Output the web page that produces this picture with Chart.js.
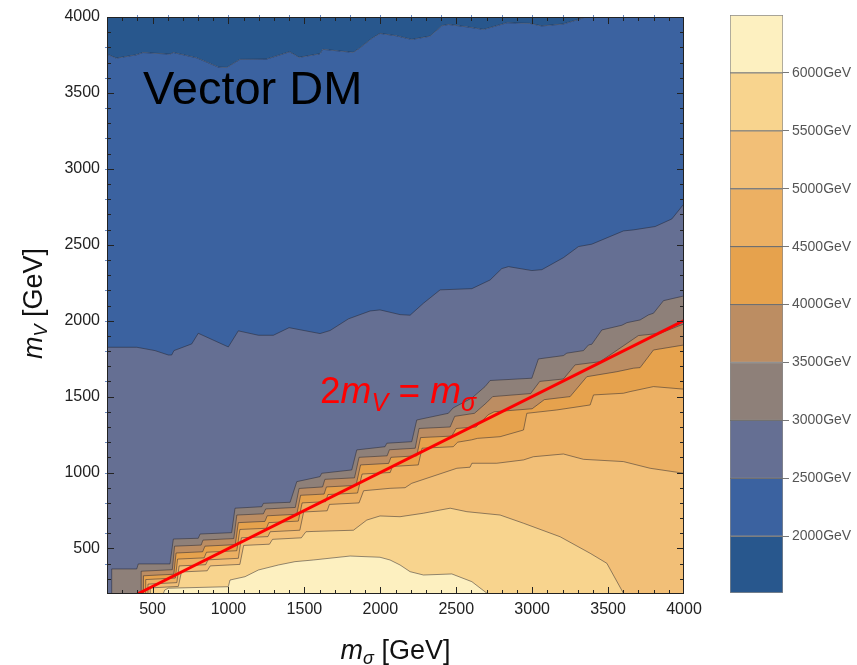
<!DOCTYPE html>
<html>
<head>
<meta charset="utf-8">
<title>Vector DM contours</title>
<script src="https://cdn.jsdelivr.net/npm/chart.js@4.4.1/dist/chart.umd.min.js"></script>
<style>
  body { margin: 0; background: #fff; }
  #wrap { position: relative; width: 857px; height: 665px; }
  canvas { position: absolute; top: 0; }
  #plot { left: 0; }
  #scaleBar { left: 700px; }
</style>
</head>
<body>
<div id="wrap">
  <canvas id="plot" width="857" height="665"></canvas>
  <canvas id="scaleBar" width="157" height="665"></canvas>
</div>
<script>
// axis ranges and tick labels (GeV)
const mSigmaRange = [200, 4000];
const mVRange = [200, 4000];
const axisTicks = [500, 1000, 1500, 2000, 2500, 3000, 3500, 4000];

// contour levels (GeV) and band colours, lowest band first
const levels = [2000, 2500, 3000, 3500, 4000, 4500, 5000, 5500, 6000];
const barLevels = [1510, 2000, 2500, 3000, 3500, 4000, 4500, 5000, 5500, 6000, 6500];
const bandColors = ['#28578d', '#3b62a0', '#656f93', '#8e8079', '#bc8d62',
                    '#e6a24d', '#ecb063', '#f2bf77', '#f8d48e', '#fdf0c0'];

// contour lines as [m_sigma, m_V] points
const c2000 = [[200,3755],[262,3729],[394,3751],[437,3766],[615,3755],[637,3766],[791,3731],[933,3670],[989,3668],[1076,3721],[1252,3723],[1403,3771],[1465,3734],[1603,3758],[1621,3787],[1822,3767],[1866,3797],[1944,3859],[1998,3892],[2108,3876],[2207,3852],[2328,3874],[2405,3942],[2449,3951],[2570,3935],[2680,3918],[2834,3962],[2985,3958],[3063,3941],[3205,3954],[3314,3987],[3350,4000],[4000,4000]];
const c2500 = [[200,1825],[396,1825],[516,1803],[604,1774],[626,1774],[641,1803],[758,1847],[801,1917],[999,1827],[1065,1933],[1197,1904],[1296,1904],[1399,1954],[1603,1915],[1669,1935],[1790,2012],[1933,2064],[1998,2071],[2130,2040],[2196,2036],[2284,2115],[2394,2203],[2603,2211],[2723,2268],[2800,2343],[2844,2356],[2998,2330],[3064,2336],[3206,2415],[3305,2488],[3393,2504],[3601,2591],[3667,2598],[3810,2620],[3920,2670],[4000,2770]];
const c3000 = [[231,200],[231,365],[396,365],[406,398],[615,398],[637,562],[801,567],[813,595],[1021,604],[1043,765],[1219,775],[1230,797],[1406,804],[1450,940],[1603,973],[1614,995],[1812,1017],[1845,1149],[2031,1170],[2043,1193],[2207,1203],[2240,1346],[2448,1390],[2479,1425],[2603,1491],[2690,1566],[2723,1606],[2998,1621],[3041,1748],[3206,1770],[3228,1786],[3338,1803],[3371,1840],[3393,1845],[3459,1939],[3591,1970],[3624,1987],[3711,2005],[3766,2038],[3799,2049],[3865,2132],[4000,2163]];
const c3500 = [[425,200],[425,350],[630,360],[645,515],[820,522],[832,555],[1035,565],[1055,720],[1230,728],[1245,760],[1440,770],[1465,895],[1620,905],[1635,955],[1830,965],[1860,1100],[2045,1110],[2060,1150],[2230,1160],[2255,1290],[2460,1300],[2490,1370],[2620,1390],[2700,1460],[2740,1500],[2990,1520],[3050,1600],[3206,1616],[3283,1709],[3448,1730],[3700,1902],[3843,1917],[4000,1979]];
const c4000 = [[440,200],[440,320],[640,330],[655,470],[830,478],[845,515],[1045,525],[1065,670],[1240,678],[1255,715],[1450,725],[1475,850],[1630,858],[1645,905],[1840,915],[1870,1050],[2055,1060],[2070,1100],[2240,1110],[2265,1230],[2470,1240],[2500,1290],[2630,1300],[2710,1380],[2750,1400],[3000,1420],[3080,1480],[3250,1500],[3360,1631],[3558,1664],[3667,1687],[3711,1691],[3799,1807],[4000,1840]];
const c4500 = [[455,200],[455,295],[650,305],[665,430],[840,438],[855,475],[1055,485],[1075,625],[1250,633],[1265,670],[1460,680],[1485,800],[1640,808],[1655,855],[1850,865],[1880,990],[2065,1000],[2080,1040],[2250,1050],[2275,1160],[2480,1170],[2510,1200],[2600,1215],[2640,1225],[2789,1236],[2943,1280],[2965,1390],[3162,1412],[3382,1445],[3404,1511],[3601,1522],[3645,1533],[3799,1566],[4000,1549]];
const c5000 = [[470,200],[470,265],[660,275],[675,385],[850,393],[865,425],[1065,435],[1085,570],[1260,578],[1275,610],[1470,620],[1495,740],[1650,748],[1665,790],[1860,800],[1890,880],[2064,896],[2163,900],[2207,929],[2504,1028],[2591,1035],[2603,1061],[2767,1061],[2943,1083],[3008,1104],[3206,1122],[3338,1087],[3601,1072],[3777,1028],[4000,995]];
const c5500 = [[485,200],[485,240],[670,250],[690,345],[860,353],[880,385],[1075,395],[1100,520],[1270,528],[1290,560],[1480,570],[1510,610],[1557,612],[1823,620],[1911,687],[1998,714],[2130,709],[2284,732],[2394,753],[2460,765],[2570,742],[2789,720],[2943,666],[3184,577],[3382,468],[3492,402],[3601,205],[3605,200]];
const c6000 = [[570,200],[580,226],[604,238],[999,248],[1010,292],[1109,314],[1197,358],[1329,391],[1438,413],[1559,424],[1801,450],[1998,442],[2064,424],[2130,391],[2196,347],[2284,325],[2471,332],[2603,281],[2702,205],[2710,200]];
const contours = [c2000, c2500, c3000, c3500, c4000, c4500, c5000, c5500, c6000];

// threshold line 2 m_V = m_sigma
const thresholdLine = [[400, 200], [4000, 2000]];

const FONT = '"Liberation Sans", Arial, sans-serif';
const toXY = pts => pts.map(p => ({ x: p[0], y: p[1] }));

// draws a run of text pieces: [text, italic, subscript]
function drawRich(ctx, parts, x, y, size, color, align) {
  const fontOf = p => `${p[1] ? 'italic ' : ''}${p[2] ? Math.round(size * 0.68) : size}px ${FONT}`;
  const widths = parts.map(p => { ctx.font = fontOf(p); return ctx.measureText(p[0]).width; });
  const total = widths.reduce((a, b) => a + b, 0);
  let cx = align === 'center' ? x - total / 2 : x;
  ctx.fillStyle = color;
  ctx.textBaseline = 'alphabetic';
  ctx.textAlign = 'left';
  parts.forEach((p, i) => {
    ctx.font = fontOf(p);
    ctx.fillText(p[0], cx, p[2] ? y + size * 0.2 : y);
    cx += widths[i];
  });
}

// frame with inward ticks, axis titles and text labels
const framePlugin = {
  id: 'frame',
  afterDatasetsDraw(chart) {
    const { ctx, chartArea: a, scales: { x, y } } = chart;
    ctx.save();
    ctx.strokeStyle = '#222';
    ctx.lineWidth = 1;
    ctx.beginPath();
    for (let v = 300; v < 4000; v += 100) {
      const len = v % 500 === 0 ? 7 : 4;
      const px = Math.round(x.getPixelForValue(v)) + 0.5;
      ctx.moveTo(px, a.bottom); ctx.lineTo(px, a.bottom - len);
      ctx.moveTo(px, a.top); ctx.lineTo(px, a.top + len);
      const py = Math.round(y.getPixelForValue(v)) + 0.5;
      ctx.moveTo(a.left, py); ctx.lineTo(a.left + len, py);
      ctx.moveTo(a.right, py); ctx.lineTo(a.right - len, py);
    }
    ctx.stroke();
    // small outer marks on the top and left edges
    ctx.strokeStyle = 'rgba(70,110,180,0.8)';
    ctx.beginPath();
    for (let v = 400; v < 4000; v += 200) {
      const px = Math.round(x.getPixelForValue(v)) + 0.5;
      ctx.moveTo(px, a.top); ctx.lineTo(px, a.top - 2);
      const py = Math.round(y.getPixelForValue(v)) + 0.5;
      ctx.moveTo(a.left, py); ctx.lineTo(a.left - 2, py);
    }
    ctx.stroke();
    ctx.strokeStyle = '#222';
    ctx.strokeRect(a.left + 0.5, a.top + 0.5, a.right - a.left - 1, a.bottom - a.top - 1);

    drawRich(ctx, [['Vector DM']], x.getPixelForValue(437), y.getPixelForValue(3428), 47, '#000');
    drawRich(ctx, [['2'], ['m', true], ['V', true, true], [' = '], ['m', true], ['σ', true, true]],
      x.getPixelForValue(1603), y.getPixelForValue(1456), 37, '#ff0000');

    drawRich(ctx, [['m', true], ['σ', true, true], [' [GeV]']], (a.left + a.right) / 2, 659, 27, '#111', 'center');
    ctx.translate(42, (a.top + a.bottom) / 2 - 2);
    ctx.rotate(-Math.PI / 2);
    drawRich(ctx, [['m', true], ['V', true, true], [' [GeV]']], 0, 0, 27, '#111', 'center');
    ctx.restore();
  }
};

const datasets = [{
  // region above the lowest contour
  data: toXY(c2000), fill: 'end', backgroundColor: bandColors[0],
  borderWidth: 0, pointRadius: 0, showLine: true, order: 100
}];
contours.forEach((c, i) => {
  datasets.push({
    label: levels[i] + 'GeV',
    data: toXY(c),
    showLine: true,
    fill: 'start',
    backgroundColor: bandColors[i + 1],
    borderColor: 'rgba(35,35,45,0.55)',
    borderWidth: 0.9,
    pointRadius: 0,
    tension: 0,
    order: 90 - i
  });
});
datasets.push({
  data: toXY(thresholdLine), showLine: true, fill: false,
  borderColor: '#ff0000', borderWidth: 3, pointRadius: 0, order: 0
});

new Chart(document.getElementById('plot'), {
  type: 'scatter',
  data: { datasets },
  options: {
    responsive: false,
    animation: false,
    events: [],
    layout: { padding: { left: 0, right: 173, top: 17, bottom: 0 } },
    plugins: { legend: { display: false }, tooltip: { enabled: false } },
    scales: {
      x: {
        type: 'linear', min: mSigmaRange[0], max: mSigmaRange[1],
        afterBuildTicks: s => { s.ticks = axisTicks.map(v => ({ value: v })); },
        afterFit: s => { s.height = 71; },
        grid: { display: false, drawTicks: false },
        border: { display: false },
        ticks: { autoSkip: false, maxRotation: 0, padding: 6, color: '#222',
                 font: { family: FONT, size: 16 }, callback: v => String(v) }
      },
      y: {
        type: 'linear', min: mVRange[0], max: mVRange[1],
        afterBuildTicks: s => { s.ticks = axisTicks.map(v => ({ value: v })); },
        afterFit: s => { s.width = 107; },
        grid: { display: false, drawTicks: false },
        border: { display: false },
        ticks: { autoSkip: false, padding: 7, color: '#222',
                 font: { family: FONT, size: 16 }, callback: v => String(v) }
      }
    }
  },
  plugins: [framePlugin]
});

// colour scale bar
const barSets = bandColors.map((col, i) => ({
  data: [[barLevels[i], barLevels[i + 1]]],
  backgroundColor: col,
  borderColor: 'rgba(60,60,60,0.6)',
  borderWidth: 1,
  borderSkipped: false,
  barPercentage: 1,
  categoryPercentage: 1
}));

new Chart(document.getElementById('scaleBar'), {
  type: 'bar',
  data: { labels: [''], datasets: barSets },
  options: {
    responsive: false,
    animation: false,
    events: [],
    layout: { padding: { left: 30, right: 0, top: 15, bottom: 72 } },
    plugins: { legend: { display: false }, tooltip: { enabled: false } },
    scales: {
      x: { display: false, stacked: true },
      y: {
        position: 'right', min: barLevels[0], max: barLevels[barLevels.length - 1], stacked: false,
        afterBuildTicks: s => { s.ticks = levels.map(v => ({ value: v })); },
        afterFit: s => { s.width = 74; },
        grid: { drawOnChartArea: false, tickLength: 6, color: '#777' },
        border: { display: false },
        ticks: { padding: 3, color: '#555', font: { family: FONT, size: 14 }, callback: v => v + 'GeV' }
      }
    }
  }
});
</script>
</body>
</html>
